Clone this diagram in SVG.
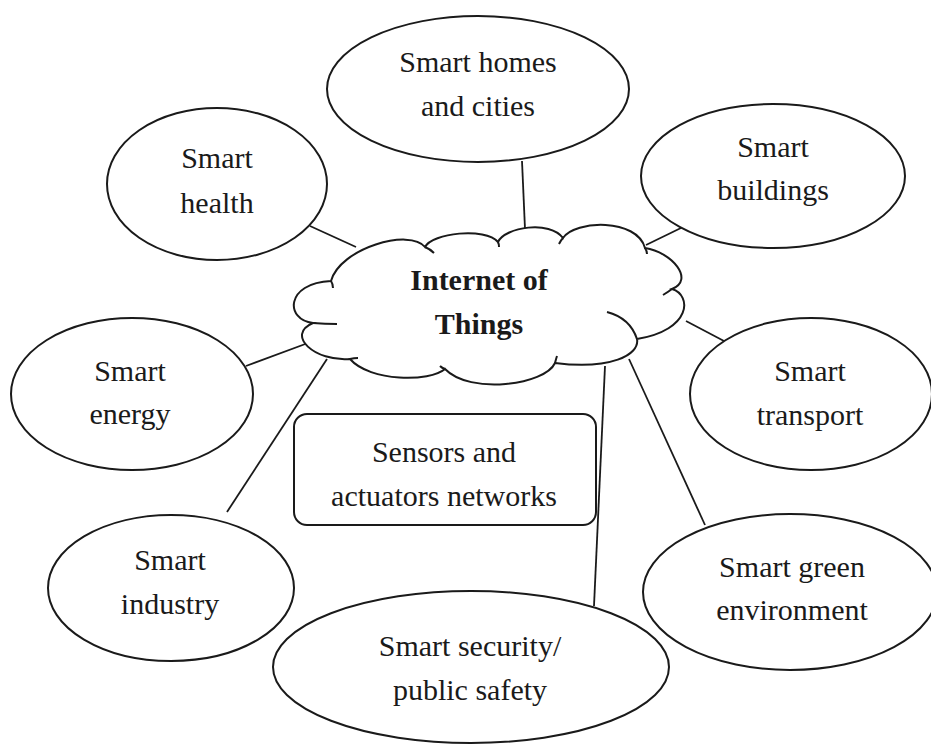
<svg xmlns="http://www.w3.org/2000/svg" width="931" height="745" viewBox="0 0 931 745">
<style>
.n{fill:#fff;stroke:#1a1a1a;stroke-width:2}
.c{stroke:#1a1a1a;stroke-width:1.8;fill:none}
.h{fill:none;stroke:#1a1a1a;stroke-width:2}
text{font-family:"Liberation Serif","Times New Roman",serif;font-size:30px;fill:#1a1a1a;text-anchor:middle}
.b{font-weight:bold}
</style>
<rect width="931" height="745" fill="#fff"/>
<g id="connectors">
<line class="c" x1="310" y1="226" x2="356" y2="247"/>
<line class="c" x1="522" y1="161" x2="525" y2="229"/>
<line class="c" x1="683" y1="227" x2="646" y2="245"/>
<line class="c" x1="686" y1="321" x2="724" y2="341"/>
<line class="c" x1="246" y1="366" x2="308" y2="343"/>
<line class="c" x1="227" y1="512" x2="327" y2="359"/>
<line class="c" x1="605" y1="366" x2="594" y2="606"/>
<line class="c" x1="629" y1="359" x2="705" y2="525"/>
</g>
<g id="homes"><ellipse class="n" cx="478" cy="89" rx="151" ry="73"/><text x="478" y="72">Smart homes</text><text x="478" y="116">and cities</text></g>
<g id="health"><ellipse class="n" cx="217" cy="184" rx="110" ry="76"/><text x="217" y="168">Smart</text><text x="217" y="213">health</text></g>
<g id="buildings"><ellipse class="n" cx="773" cy="176" rx="132" ry="72"/><text x="773" y="157">Smart</text><text x="773" y="200">buildings</text></g>
<g id="energy"><ellipse class="n" cx="132" cy="394" rx="121" ry="76"/><text x="130" y="381">Smart</text><text x="130" y="424">energy</text></g>
<g id="transport"><ellipse class="n" cx="811" cy="394" rx="121" ry="76"/><text x="810" y="381">Smart</text><text x="810" y="425">transport</text></g>
<g id="industry"><ellipse class="n" cx="171" cy="588" rx="123" ry="73"/><text x="170" y="570">Smart</text><text x="170" y="614">industry</text></g>
<g id="green"><ellipse class="n" cx="790" cy="592" rx="147" ry="78"/><text x="792" y="577">Smart green</text><text x="792" y="620">environment</text></g>
<g id="security"><ellipse class="n" cx="471" cy="667" rx="198" ry="76"/><text x="470" y="656">Smart security/</text><text x="470" y="700">public safety</text></g>
<g id="sensors"><rect class="n" x="294" y="414" width="302" height="111" rx="13"/><text x="444" y="462">Sensors and</text><text x="444" y="506">actuators networks</text></g>
<g id="iot">
<path class="n" d="M331,281 C340,248 410,228 425,247 C432,233 485,227 498,242 C505,227 550,220 563,238 C575,220 637,218 645,248 C672,252 695,280 672,289 C692,295 692,330 637,339 C640,355 610,370 555,363 C545,385 470,395 445,369 C430,382 370,382 350,359 C315,362 285,335 313,323 C285,320 285,283 331,281 Z"/>
<path class="h" d="M331,281 Q333,284 333,288 M425,247 Q430,249 434,253 M498,242 Q499,244 499,247 M563,238 Q561,240 559,244 M645,248 Q647,251 647,254 M672,289 Q668,292 663,295 M637,339 Q630,318 607,312 M555,363 Q556,359 557,356 M445,369 Q442,368 440,366 M350,359 Q354,358 358,358 M313,323 Q325,324 337,324"/>
<text class="b" x="479" y="290">Internet of</text><text class="b" x="479" y="334">Things</text>
</g>
</svg>
